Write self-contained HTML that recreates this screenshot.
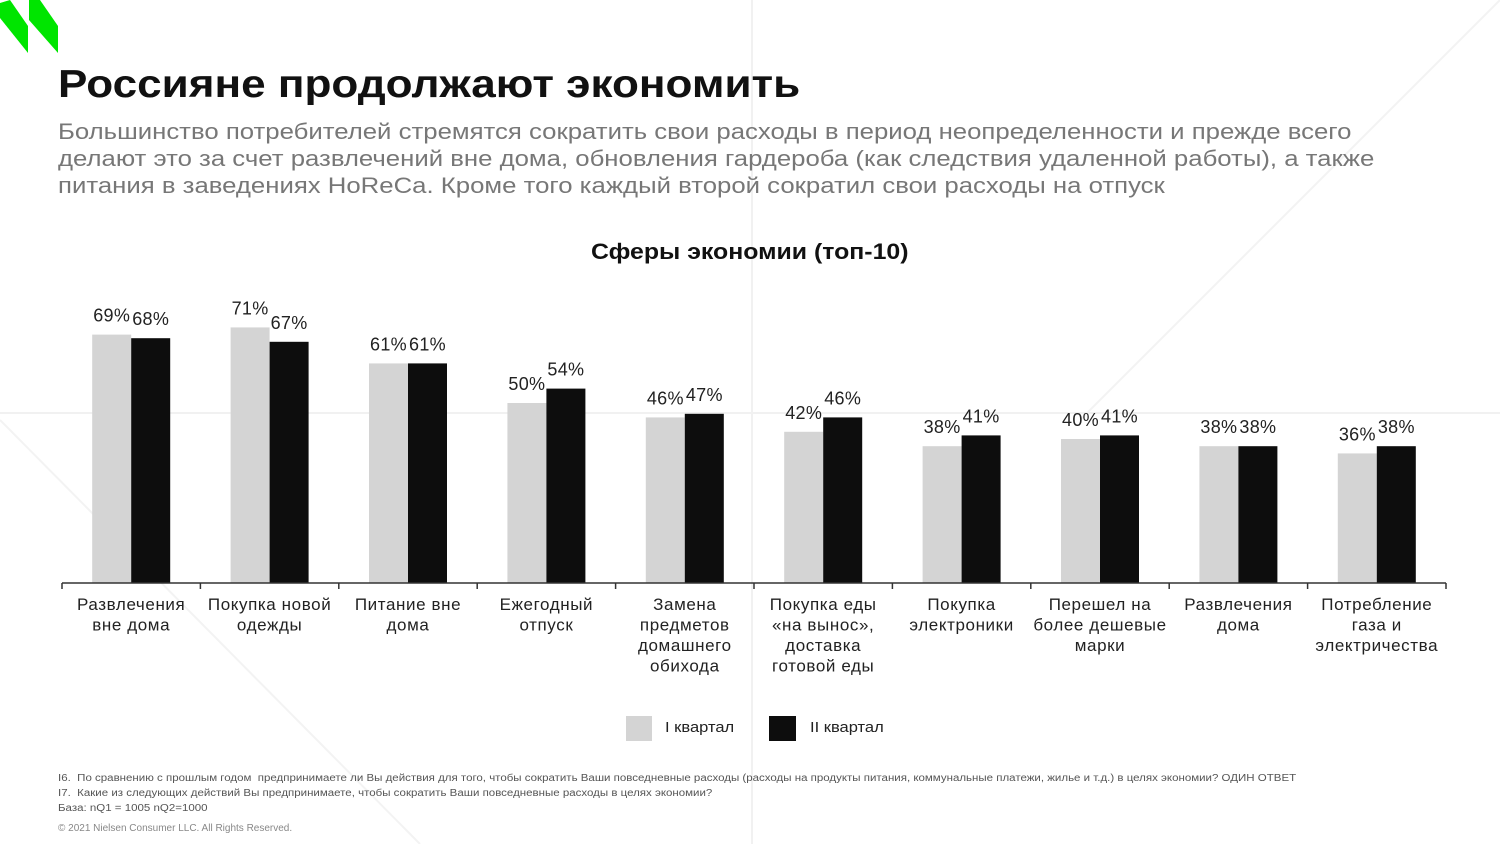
<!DOCTYPE html>
<html><head><meta charset="utf-8"><style>
body{margin:0;width:1500px;height:844px;background:#fff;position:relative;overflow:hidden;font-family:"Liberation Sans","DejaVu Sans",sans-serif}
.t{position:absolute;white-space:nowrap;transform-origin:left top}
</style></head><body>
<svg width="1500" height="844" style="position:absolute;left:0;top:0">
<line x1="752" y1="0" x2="752" y2="844" stroke="#f1f1f1" stroke-width="2"/>
<line x1="0" y1="413" x2="1500" y2="413" stroke="#f1f1f1" stroke-width="2"/>
<line x1="0" y1="420" x2="420" y2="844" stroke="#f3f3f3" stroke-width="2"/>
<line x1="1500" y1="0" x2="1080" y2="420" stroke="#f3f3f3" stroke-width="2"/>
<polygon points="0,3 10,0 28,26 28,53 0,18" fill="#00e500"/>
<polygon points="29,0 40,0 58,26 58,53 29,20" fill="#00e500"/>
</svg>
<div class="t" style="left:58px;top:63px;font-size:39px;font-weight:bold;color:#111;transform:scaleX(1.13)">Россияне продолжают экономить</div>
<div class="t" style="left:58px;top:118px;font-size:22px;line-height:27px;color:#777;transform:scaleX(1.17)">Большинство потребителей стремятся сократить свои расходы в период неопределенности и прежде всего<br>делают это за счет развлечений вне дома, обновления гардероба (как следствия удаленной работы), а также<br>питания в заведениях HoReCa. Кроме того каждый второй сократил свои расходы на отпуск</div>
<div class="t" style="left:591px;top:239px;font-size:22px;font-weight:bold;color:#111;transform:scaleX(1.13)">Сферы экономии (топ-10)</div>
<svg id="chart" width="1500" height="844" style="position:absolute;left:0;top:0"></svg>
<div style="position:absolute;left:626px;top:716px;width:26px;height:25px;background:#d4d4d4"></div>
<div class="t" style="left:665px;top:719px;font-size:15px;color:#222;transform:scaleX(1.1)">I квартал</div>
<div style="position:absolute;left:769px;top:716px;width:27px;height:25px;background:#0d0d0d"></div>
<div class="t" style="left:810px;top:719px;font-size:15px;color:#222;transform:scaleX(1.1)">II квартал</div>
<div class="t" style="left:58px;top:771px;font-size:10px;line-height:15px;color:#555;transform:scaleX(1.15)">I6.&nbsp; По сравнению с прошлым годом&nbsp; предпринимаете ли Вы действия для того, чтобы сократить Ваши повседневные расходы (расходы на продукты питания, коммунальные платежи, жилье и т.д.) в целях экономии? ОДИН ОТВЕТ<br>I7.&nbsp; Какие из следующих действий Вы предпринимаете, чтобы сократить Ваши повседневные расходы в целях экономии?<br>База: nQ1 = 1005 nQ2=1000</div>
<div class="t" style="left:58px;top:823px;font-size:10px;color:#888">© 2021 Nielsen Consumer LLC. All Rights Reserved.</div>
<script>
const categories=[["Развлечения","вне дома"],["Покупка новой","одежды"],["Питание вне","дома"],["Ежегодный","отпуск"],["Замена","предметов","домашнего","обихода"],["Покупка еды","«на вынос»,","доставка","готовой еды"],["Покупка","электроники"],["Перешел на","более дешевые","марки"],["Развлечения","дома"],["Потребление","газа и","электричества"]];
const q1=[69,71,61,50,46,42,38,40,38,36];
const q2=[68,67,61,54,47,46,41,41,38,38];
const svg=document.getElementById('chart');
const NS='http://www.w3.org/2000/svg';
const x0=62,x1=1446,base=583,pxPer=3.6,bw=39;
const gw=(x1-x0)/categories.length;
const y=v=>base-v*pxPer;
function mk(t,a){const e=document.createElementNS(NS,t);for(const k in a)e.setAttribute(k,a[k]);svg.appendChild(e);return e;}
categories.forEach((c,i)=>{
  const cx=x0+gw*(i+0.5);
  [[q1[i],'#d4d4d4',cx-bw],[q2[i],'#0d0d0d',cx]].forEach(([v,col,bx],j)=>{
    const r=mk('rect',{x:bx,y:y(v),width:bw,height:v*pxPer,fill:col});
    
    
    const t=mk('text',{x:bx+bw/2,y:y(v)-13,'text-anchor':'middle','font-size':18,'letter-spacing':'0.3',fill:'#222'});
    t.textContent=v+'%';
    
    
  });
  c.forEach((ln,k)=>{
    const t=mk('text',{x:cx,y:610+k*20.5,'text-anchor':'middle','font-size':17,'letter-spacing':'0.6',fill:'#222'});
    t.textContent=ln;
    
    
  });
});
for(let i=0;i<=categories.length;i++){
  const tk=mk('line',{x1:x0+gw*i,x2:x0+gw*i,y1:base,y2:base+6,stroke:'#333','stroke-width':1.5});
  
  
}
const ax=mk('line',{x1:x0,x2:x1,y1:base,y2:base,stroke:'#333','stroke-width':1.5});


</script>
</body></html>
